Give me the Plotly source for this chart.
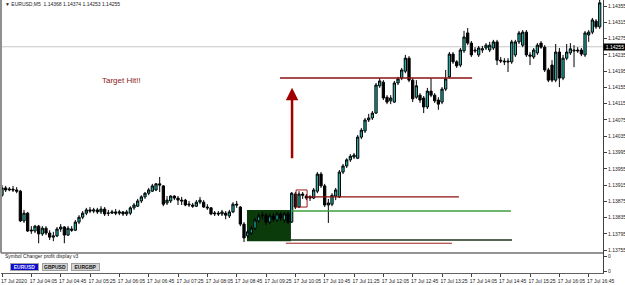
import pandas as pd
import plotly.graph_objects as go

# ---------------- data ----------------
times = pd.date_range("2020-07-17 03:25", periods=164, freq="5min")

opens = [1.13890,1.13908,1.13903,1.13905,1.13903,1.13900,1.13827,1.13846,1.13802,1.13802,
         1.13814,1.13795,1.13809,1.13797,1.13787,1.13790,1.13807,1.13812,1.13792,1.13807,
         1.13804,1.13824,1.13836,1.13846,1.13854,1.13851,1.13854,1.13849,1.13856,1.13846,
         1.13846,1.13849,1.13846,1.13849,1.13844,1.13846,1.13859,1.13863,1.13876,1.13886,
         1.13895,1.13900,1.13903,1.13918,1.13913,1.13871,1.13876,1.13888,1.13883,1.13878,
         1.13878,1.13866,1.13866,1.13863,1.13873,1.13873,1.13861,1.13859,1.13844,1.13846,
         1.13844,1.13846,1.13839,1.13849,1.13868,1.13861,1.13819,1.13790,1.13797,1.13809,
         1.13827,1.13839,1.13841,1.13824,1.13839,1.13829,1.13844,1.13829,1.13844,1.13824,
         1.13893,1.13861,1.13893,1.13888,1.13883,1.13883,1.13900,1.13942,1.13913,1.13866,
         1.13868,1.13888,1.13886,1.13947,1.13962,1.13977,1.13984,1.13981,1.14033,1.14048,
         1.14075,1.14080,1.14092,1.14159,1.14168,1.14131,1.14122,1.14119,1.14166,1.14178,
         1.14195,1.14227,1.14173,1.14131,1.14136,1.14129,1.14107,1.14146,1.14136,1.14124,
         1.14119,1.14151,1.14181,1.14237,1.14218,1.14210,1.14245,1.14289,1.14264,1.14247,
         1.14235,1.14247,1.14252,1.14247,1.14252,1.14267,1.14222,1.14220,1.14220,1.14218,
         1.14235,1.14267,1.14259,1.14291,1.14235,1.14230,1.14240,1.14264,1.14254,1.14198,
         1.14210,1.14173,1.14242,1.14178,1.14227,1.14240,1.14247,1.14247,1.14247,1.14235,
         1.14284,1.14291,1.14318,1.14304]
highs = [1.13915,1.13913,1.13910,1.13913,1.13910,1.13903,1.13854,1.13849,1.13814,1.13817,
         1.13817,1.13814,1.13814,1.13804,1.13800,1.13812,1.13819,1.13814,1.13814,1.13814,
         1.13829,1.13841,1.13851,1.13859,1.13861,1.13859,1.13859,1.13863,1.13861,1.13854,
         1.13854,1.13856,1.13854,1.13851,1.13854,1.13863,1.13871,1.13881,1.13890,1.13898,
         1.13908,1.13918,1.13920,1.13935,1.13915,1.13888,1.13890,1.13890,1.13888,1.13886,
         1.13881,1.13876,1.13871,1.13878,1.13886,1.13878,1.13868,1.13861,1.13851,1.13851,
         1.13854,1.13851,1.13854,1.13873,1.13876,1.13863,1.13824,1.13804,1.13814,1.13834,
         1.13846,1.13849,1.13846,1.13846,1.13846,1.13849,1.13849,1.13849,1.13849,1.13898,
         1.13898,1.13900,1.13898,1.13893,1.13890,1.13908,1.13947,1.13947,1.13918,1.13881,
         1.13895,1.13908,1.13952,1.13967,1.13981,1.13991,1.13994,1.14038,1.14055,1.14080,
         1.14090,1.14097,1.14166,1.14178,1.14173,1.14136,1.14136,1.14171,1.14181,1.14203,
         1.14235,1.14232,1.14178,1.14173,1.14141,1.14134,1.14154,1.14178,1.14141,1.14131,
         1.14156,1.14198,1.14242,1.14242,1.14222,1.14252,1.14294,1.14301,1.14269,1.14254,
         1.14257,1.14257,1.14264,1.14267,1.14272,1.14272,1.14230,1.14227,1.14227,1.14272,
         1.14272,1.14294,1.14296,1.14296,1.14242,1.14252,1.14264,1.14269,1.14259,1.14203,
         1.14222,1.14262,1.14252,1.14235,1.14262,1.14264,1.14259,1.14254,1.14252,1.14294,
         1.14296,1.14326,1.14323,1.14370]
lows = [1.13886,1.13898,1.13900,1.13898,1.13895,1.13824,1.13822,1.13800,1.13795,1.13797,
        1.13772,1.13790,1.13792,1.13780,1.13777,1.13787,1.13800,1.13772,1.13790,1.13800,
        1.13802,1.13819,1.13831,1.13841,1.13846,1.13846,1.13844,1.13844,1.13839,1.13839,
        1.13844,1.13841,1.13841,1.13839,1.13839,1.13841,1.13854,1.13861,1.13871,1.13881,
        1.13890,1.13898,1.13900,1.13898,1.13863,1.13866,1.13871,1.13878,1.13866,1.13866,
        1.13863,1.13861,1.13859,1.13861,1.13868,1.13859,1.13854,1.13841,1.13839,1.13839,
        1.13839,1.13831,1.13834,1.13846,1.13859,1.13814,1.13775,1.13785,1.13792,1.13804,
        1.13822,1.13831,1.13817,1.13819,1.13824,1.13824,1.13827,1.13822,1.13819,1.13822,
        1.13856,1.13859,1.13881,1.13878,1.13876,1.13881,1.13895,1.13908,1.13861,1.13822,
        1.13863,1.13878,1.13883,1.13942,1.13957,1.13972,1.13979,1.13979,1.14028,1.14043,
        1.14070,1.14075,1.14090,1.14154,1.14124,1.14114,1.14114,1.14117,1.14161,1.14173,
        1.14190,1.14168,1.14119,1.14127,1.14117,1.14092,1.14102,1.14131,1.14117,1.14100,
        1.14114,1.14146,1.14178,1.14213,1.14203,1.14205,1.14240,1.14259,1.14230,1.14240,
        1.14230,1.14240,1.14247,1.14242,1.14247,1.14210,1.14215,1.14210,1.14193,1.14213,
        1.14230,1.14262,1.14254,1.14230,1.14210,1.14225,1.14235,1.14250,1.14193,1.14168,
        1.14168,1.14168,1.14156,1.14173,1.14222,1.14235,1.14205,1.14240,1.14232,1.14230,
        1.14267,1.14286,1.14299,1.14299]
closes = [1.13908,1.13903,1.13905,1.13903,1.13900,1.13827,1.13846,1.13802,1.13804,1.13814,
          1.13795,1.13809,1.13797,1.13787,1.13790,1.13807,1.13812,1.13792,1.13809,1.13804,
          1.13824,1.13836,1.13846,1.13854,1.13851,1.13854,1.13849,1.13856,1.13844,1.13846,
          1.13849,1.13846,1.13849,1.13844,1.13849,1.13859,1.13866,1.13876,1.13886,1.13895,
          1.13903,1.13913,1.13918,1.13915,1.13868,1.13878,1.13888,1.13883,1.13878,1.13876,
          1.13866,1.13868,1.13863,1.13873,1.13878,1.13861,1.13859,1.13844,1.13846,1.13844,
          1.13849,1.13841,1.13849,1.13868,1.13866,1.13819,1.13785,1.13800,1.13809,1.13829,
          1.13839,1.13841,1.13824,1.13839,1.13831,1.13844,1.13834,1.13844,1.13824,1.13895,
          1.13861,1.13893,1.13890,1.13883,1.13886,1.13903,1.13942,1.13913,1.13866,1.13871,
          1.13890,1.13903,1.13947,1.13962,1.13977,1.13986,1.13989,1.14033,1.14050,1.14075,
          1.14080,1.14092,1.14161,1.14171,1.14129,1.14119,1.14129,1.14166,1.14176,1.14198,
          1.14227,1.14173,1.14127,1.14159,1.14124,1.14107,1.14146,1.14136,1.14122,1.14114,
          1.14151,1.14176,1.14237,1.14218,1.14208,1.14247,1.14279,1.14264,1.14235,1.14245,
          1.14252,1.14250,1.14259,1.14259,1.14267,1.14222,1.14220,1.14218,1.14218,1.14267,
          1.14267,1.14289,1.14291,1.14235,1.14232,1.14247,1.14259,1.14254,1.14198,1.14173,
          1.14173,1.14242,1.14178,1.14227,1.14242,1.14250,1.14245,1.14245,1.14237,1.14289,
          1.14291,1.14321,1.14304,1.14363]

x_tick_times = ["2020-07-17 03:25", "2020-07-17 04:05", "2020-07-17 04:45", "2020-07-17 05:25",
                "2020-07-17 06:05", "2020-07-17 06:45", "2020-07-17 07:25", "2020-07-17 08:05",
                "2020-07-17 08:45", "2020-07-17 09:25", "2020-07-17 10:05", "2020-07-17 10:45",
                "2020-07-17 11:25", "2020-07-17 12:05", "2020-07-17 12:45", "2020-07-17 13:25",
                "2020-07-17 14:05", "2020-07-17 14:45", "2020-07-17 15:25", "2020-07-17 16:05",
                "2020-07-17 16:45"]
x_tick_labels = ["17 Jul 2020", "17 Jul 04:05", "17 Jul 04:45", "17 Jul 05:25", "17 Jul 06:05",
                 "17 Jul 06:45", "17 Jul 07:25", "17 Jul 08:05", "17 Jul 08:45", "17 Jul 09:25",
                 "17 Jul 10:05", "17 Jul 10:45", "17 Jul 11:25", "17 Jul 12:05", "17 Jul 12:45",
                 "17 Jul 13:25", "17 Jul 14:05", "17 Jul 14:45", "17 Jul 15:25", "17 Jul 16:05",
                 "17 Jul 16:45"]
y_tick_vals = [1.14355, 1.14315, 1.14275, 1.14235, 1.14195, 1.14155, 1.14115, 1.14075,
               1.14035, 1.13995, 1.13955, 1.13915, 1.13875, 1.13835, 1.13795, 1.13755]
y_tick_labels = ["1.14355", "1.14315", "1.14275", "1.14235", "1.14195", "1.14155", "1.14115",
                 "1.14075", "1.14035", "1.13995", "1.13955", "1.13915", "1.13875", "1.13835",
                 "1.13795", "1.13755"]

bid_price = 1.14255
header_text = "▼ EURUSD,M5  1.14368 1.14374 1.14253 1.14255"

# drawn objects (time span, price levels)
target_line = (["2020-07-17 09:44", "2020-07-17 14:06"], 1.14178)
arrow_time = "2020-07-17 10:00:30"
arrow_prices = (1.13977, 1.14154)
entry_line = (["2020-07-17 10:21", "2020-07-17 13:48"], 1.13886)
entry_box = (["2020-07-17 10:06", "2020-07-17 10:21"], [1.13861, 1.13903])
green_line = (["2020-07-17 10:00:30", "2020-07-17 14:59"], 1.13851)
zone_box = (["2020-07-17 08:59", "2020-07-17 09:59"], [1.13777, 1.13854])
dark_line = (["2020-07-17 09:59", "2020-07-17 15:00:30"], 1.13780)
stop_line = (["2020-07-17 09:52", "2020-07-17 13:38:30"], 1.13772)
label_pos = ("2020-07-17 06:08:30", 1.14171)
buttons = ["EURUSD", "GBPUSD", "EURGBP"]

# ---------------- figure ----------------
W, H = 625, 285
ML, MR, MT, MB = 1, 22, 0, 12
PW, PH = W - ML - MR, H - MT - MB
def px(xp):  # pixel -> paper x
    return (xp - ML) / PW
def py(yp):  # pixel -> paper y
    return (H - MB - yp) / PH

sub_top = py(253)
FONT = "Liberation Sans"

fig = go.Figure()
fig.add_trace(go.Candlestick(
    x=times, open=opens, high=highs, low=lows, close=closes,
    increasing=dict(line=dict(color="#000000", width=1), fillcolor="#20B2AA"),
    decreasing=dict(line=dict(color="#000000", width=1), fillcolor="#000000"),
    whiskerwidth=0, showlegend=False, hoverinfo="skip", yaxis="y", xaxis="x"))

# invisible trace for sub window
fig.add_trace(go.Scatter(x=[times[0]], y=[0.5], mode="markers", marker=dict(opacity=0),
                         showlegend=False, hoverinfo="skip", yaxis="y2", xaxis="x"))

shapes = []
def hline(span, level, color, width, dash="solid"):
    shapes.append(dict(type="line", xref="x", yref="y", x0=span[0], x1=span[1],
                       y0=level, y1=level, line=dict(color=color, width=width, dash=dash)))

# bid line
shapes.append(dict(type="line", xref="paper", yref="y", x0=0, x1=1, y0=bid_price, y1=bid_price,
                   line=dict(color="#C8C8C8", width=1), layer="below"))
# zone box
shapes.append(dict(type="rect", xref="x", yref="y", x0=zone_box[0][0], x1=zone_box[0][1],
                   y0=zone_box[1][0], y1=zone_box[1][1], fillcolor="#0B3B0B",
                   line=dict(width=0), layer="below"))
hline(target_line[0], target_line[1], "#8B1010", 1.5)
hline(entry_line[0], entry_line[1], "#8B1010", 1.2)
hline(green_line[0], green_line[1], "#3E9E3E", 1.5)
hline(dark_line[0], dark_line[1], "#1C331C", 1.5)
hline(stop_line[0], stop_line[1], "#A02020", 1)
shapes.append(dict(type="rect", xref="x", yref="y", x0=entry_box[0][0], x1=entry_box[0][1],
                   y0=entry_box[1][0], y1=entry_box[1][1], line=dict(color="#A01818", width=1)))
# frame lines
shapes.append(dict(type="line", xref="paper", yref="paper", x0=0, x1=1, y0=sub_top, y1=sub_top,
                   line=dict(color="#707070", width=1.5)))
shapes.append(dict(type="line", xref="paper", yref="paper", x0=0, x1=0, y0=sub_top, y1=1,
                   line=dict(color="#909090", width=2)))

annotations = [
    dict(xref="paper", yref="paper", x=px(3), y=py(4), xanchor="left", yanchor="middle",
         text=header_text, showarrow=False, font=dict(family=FONT, size=5, color="#222222")),
    dict(xref="x", yref="y", x=label_pos[0], y=label_pos[1], text="Target Hit!!", showarrow=False,
         font=dict(family=FONT, size=8, color="#8B1A1A")),
    dict(xref="x", yref="y", x=arrow_time, y=arrow_prices[1], ax=arrow_time, ay=arrow_prices[0],
         axref="x", ayref="y", text="", showarrow=True, arrowhead=2, arrowsize=1,
         arrowwidth=2.5, arrowcolor="#A00000"),
    dict(xref="paper", yref="y", x=1, y=bid_price, xanchor="left", yanchor="middle",
         text="1.14255", showarrow=False, bgcolor="#000000", borderpad=0, width=22, height=6,
         font=dict(family=FONT, size=5, color="#FFFFFF")),
    dict(xref="paper", yref="paper", x=px(3), y=py(256), xanchor="left", yanchor="middle",
         text="Symbol Changer profit display v3", showarrow=False,
         font=dict(family=FONT, size=5, color="#222222")),
]
btn_geo = [(10, 39, "#0A0ACD", "#E8E8FF"), (42, 68, "#D4D4D4", "#111111"), (71, 100, "#D4D4D4", "#111111")]
for name, (x0, x1, bg, fc) in zip(buttons, btn_geo):
    annotations.append(dict(xref="paper", yref="paper", x=px((x0 + x1) / 2), y=py(267),
                            xanchor="center", yanchor="middle", text="<b>%s</b>" % name,
                            showarrow=False, bgcolor=bg, bordercolor="#A0A0A0", borderwidth=1,
                            borderpad=0, width=x1 - x0 - 2, height=6,
                            font=dict(family=FONT, size=5, color=fc)))

fig.update_layout(
    width=W, height=H, margin=dict(l=ML, r=MR, t=MT, b=MB, autoexpand=False),
    paper_bgcolor="#FFFFFF", plot_bgcolor="#FFFFFF",
    showlegend=False, hovermode=False, boxgap=0.12,
    shapes=shapes, annotations=annotations,
    xaxis=dict(type="date", range=["2020-07-17 03:23:38", "2020-07-17 17:04:30"],
               rangeslider=dict(visible=False), anchor="y2", automargin=False,
               tickvals=x_tick_times, ticktext=x_tick_labels, ticks="outside", ticklen=3,
               tickangle=0, tickcolor="#404040", ticklabelshift=12, showgrid=False,
               zeroline=False, showline=True, linecolor="#606060", linewidth=1,
               tickfont=dict(family=FONT, size=5, color="#222222")),
    yaxis=dict(domain=[sub_top, 1], range=[1.13748, 1.14370], side="right", automargin=False,
               tickvals=y_tick_vals, ticktext=y_tick_labels, ticks="outside", ticklen=3,
               tickcolor="#404040", showgrid=False, zeroline=False, showline=True,
               linecolor="#404040", linewidth=1, anchor="x",
               tickfont=dict(family=FONT, size=5, color="#222222")),
    yaxis2=dict(domain=[0, sub_top], range=[0, 1], side="right", tickvals=[0.1, 0.85],
                ticktext=["0", "0"], ticks="outside", ticklen=3, tickcolor="#404040",
                showgrid=False, zeroline=False, showline=True, linecolor="#404040",
                linewidth=1, anchor="x", automargin=False,
                tickfont=dict(family=FONT, size=5, color="#222222")),
)

fig.write_html("out.html")
